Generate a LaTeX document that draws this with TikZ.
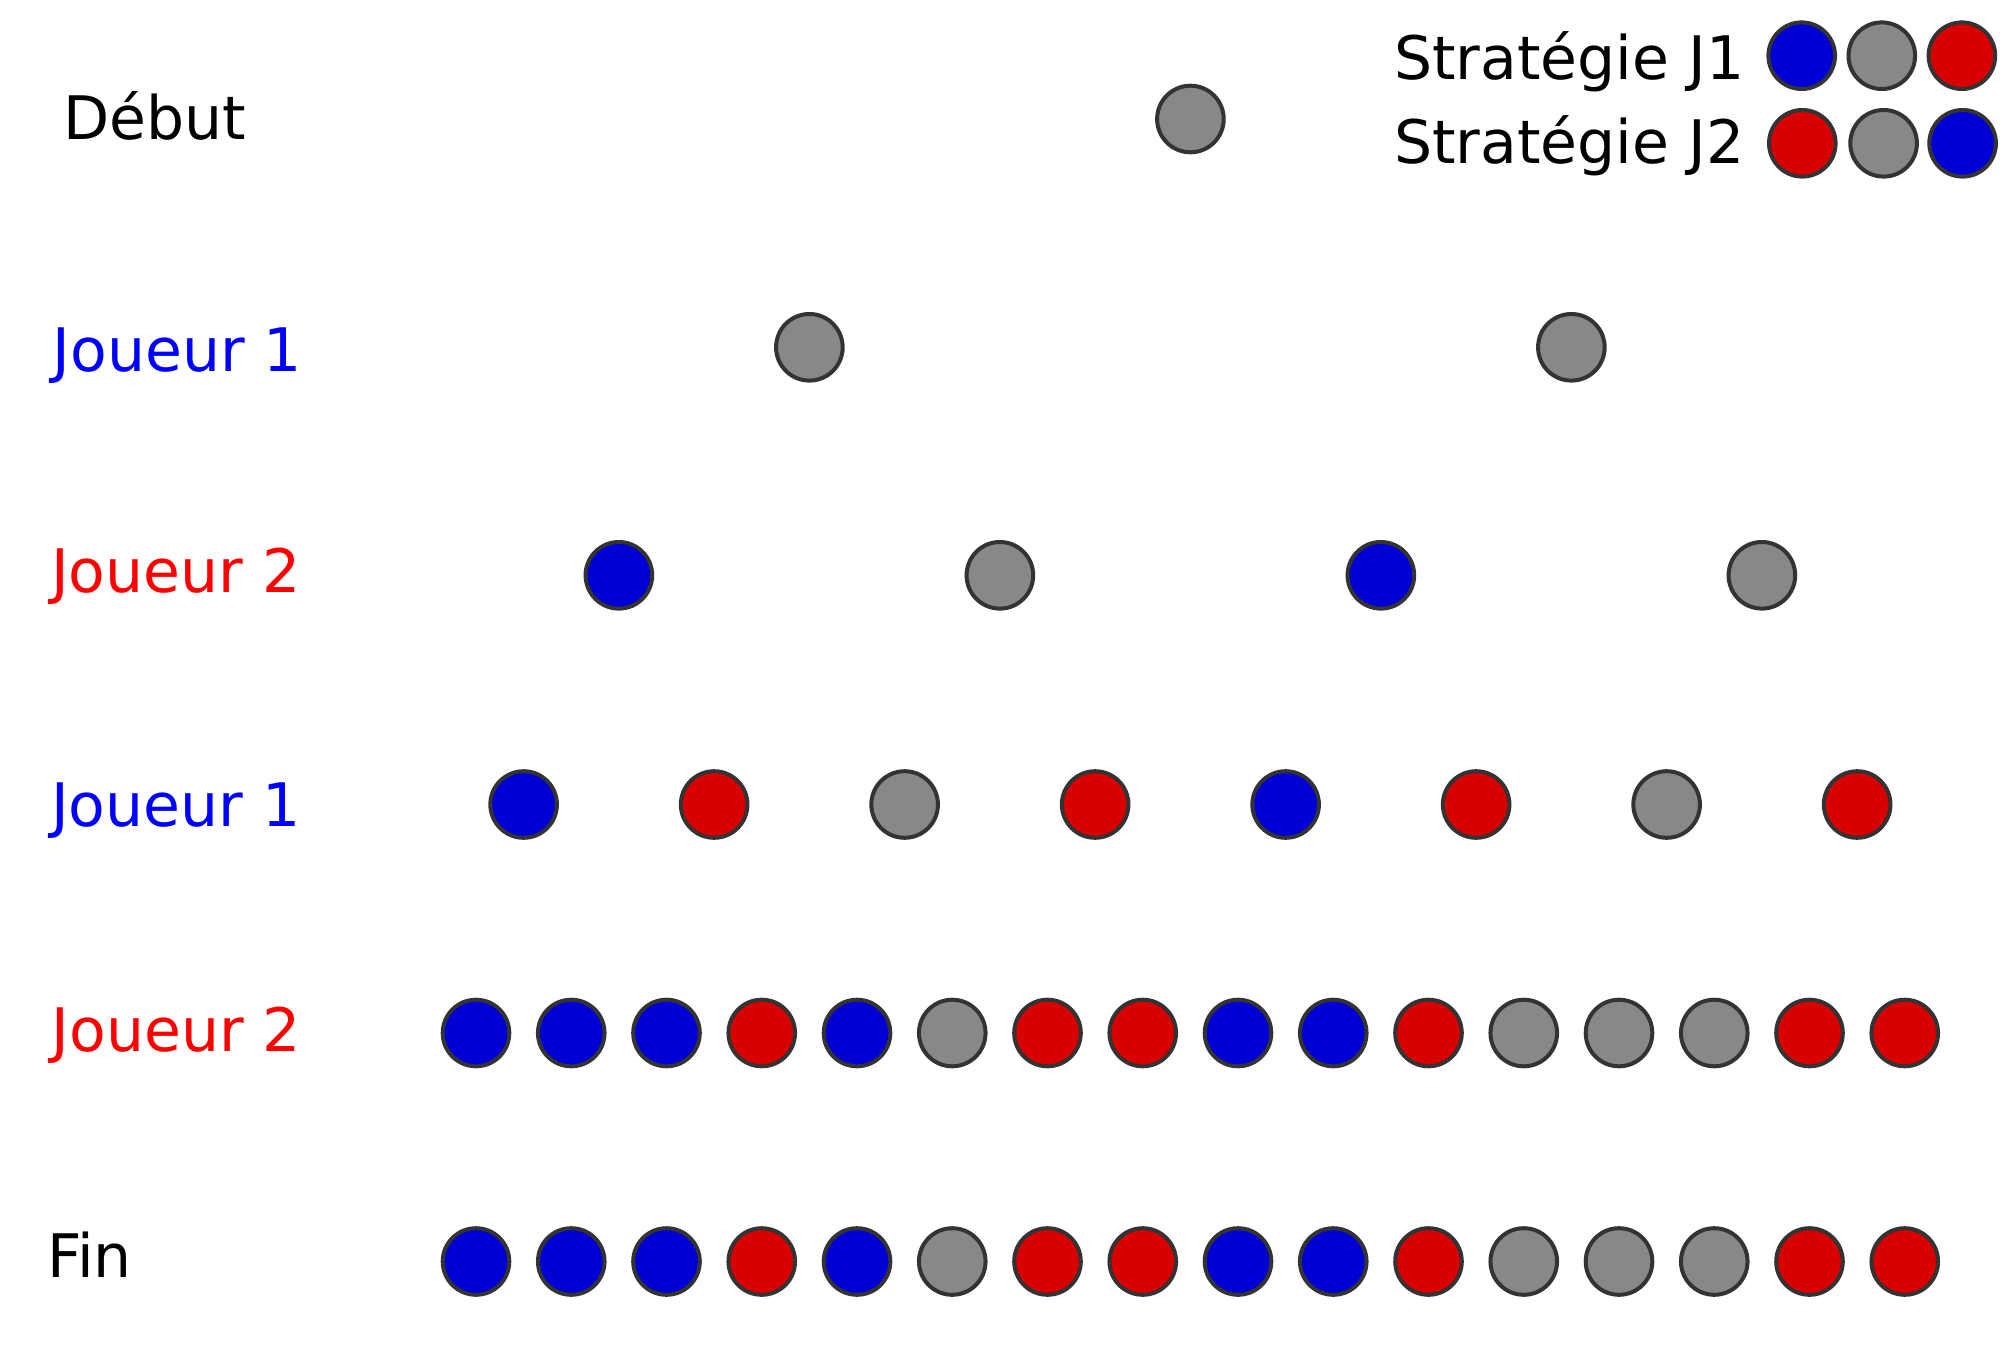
\documentclass[tikz,border=0pt]{standalone}
\usepackage{fontspec}
\setmainfont{DejaVu Sans}
\definecolor{cblue}{HTML}{0000D4}
\definecolor{cred}{HTML}{D80000}
\definecolor{cgray}{HTML}{888888}
\definecolor{cstroke}{HTML}{333333}
\definecolor{tblue}{HTML}{0000FF}
\definecolor{tred}{HTML}{FF0000}
\begin{document}
\begin{tikzpicture}[x=1pt,y=-1pt,
  disc/.style={circle,draw=cstroke,line width=4pt,inner sep=0pt,minimum size=66.6pt},
  lbl/.style={anchor=base west,inner sep=0pt,font=\fontsize{60}{72}\selectfont}]
\useasboundingbox (0,0) rectangle (2000,1362);
% labels
\node[lbl] (tdebut) at (63,140) {Début};
\node[lbl,text=tblue] (tj1a) at (52.5,371.7) {Joueur 1};
\node[lbl,text=tred] (tj2a) at (51,592.7) {Joueur 2};
\node[lbl,text=tblue] (tj1b) at (51,826) {Joueur 1};
\node[lbl,text=tred] (tj2b) at (51.5,1051) {Joueur 2};
\node[lbl] (tfin) at (46.8,1277.3) {Fin};
\node[lbl] (ts1) at (1394,79.3) {Stratégie J1};
\node[lbl] (ts2) at (1394,163.3) {Stratégie J2};
% legend
\node[disc,fill=cblue] (l1a) at (1801.7,55.7) {};
\node[disc,fill=cgray] (l1b) at (1881.8,55.7) {};
\node[disc,fill=cred]  (l1c) at (1961.9,55.7) {};
\node[disc,fill=cred]  (l2a) at (1802.3,143.3) {};
\node[disc,fill=cgray] (l2b) at (1883.6,143.3) {};
\node[disc,fill=cblue] (l2c) at (1962.6,143.3) {};
% tree
\node[disc,fill=cgray] (r0) at (1190.4,119) {};
\foreach \c [count=\j from 0] in {cgray,cgray}
  \node[disc,fill=\c] (r1-\j) at ({476+95.25*((\j+0.5)*8-0.5)},347.3) {};
\foreach \c [count=\j from 0] in {cblue,cgray,cblue,cgray}
  \node[disc,fill=\c] (r2-\j) at ({476+95.25*((\j+0.5)*4-0.5)},575.3) {};
\foreach \c [count=\j from 0] in {cblue,cred,cgray,cred,cblue,cred,cgray,cred}
  \node[disc,fill=\c] (r3-\j) at ({476+95.25*((\j+0.5)*2-0.5)},804.5) {};
\foreach \c [count=\j from 0] in {cblue,cblue,cblue,cred,cblue,cgray,cred,cred,cblue,cblue,cred,cgray,cgray,cgray,cred,cred}{
  \node[disc,fill=\c] (r4-\j) at ({476+95.25*\j},1033) {};
  \node[disc,fill=\c] (r5-\j) at ({476+95.25*\j},1261.5) {};
}
\end{tikzpicture}
\end{document}
